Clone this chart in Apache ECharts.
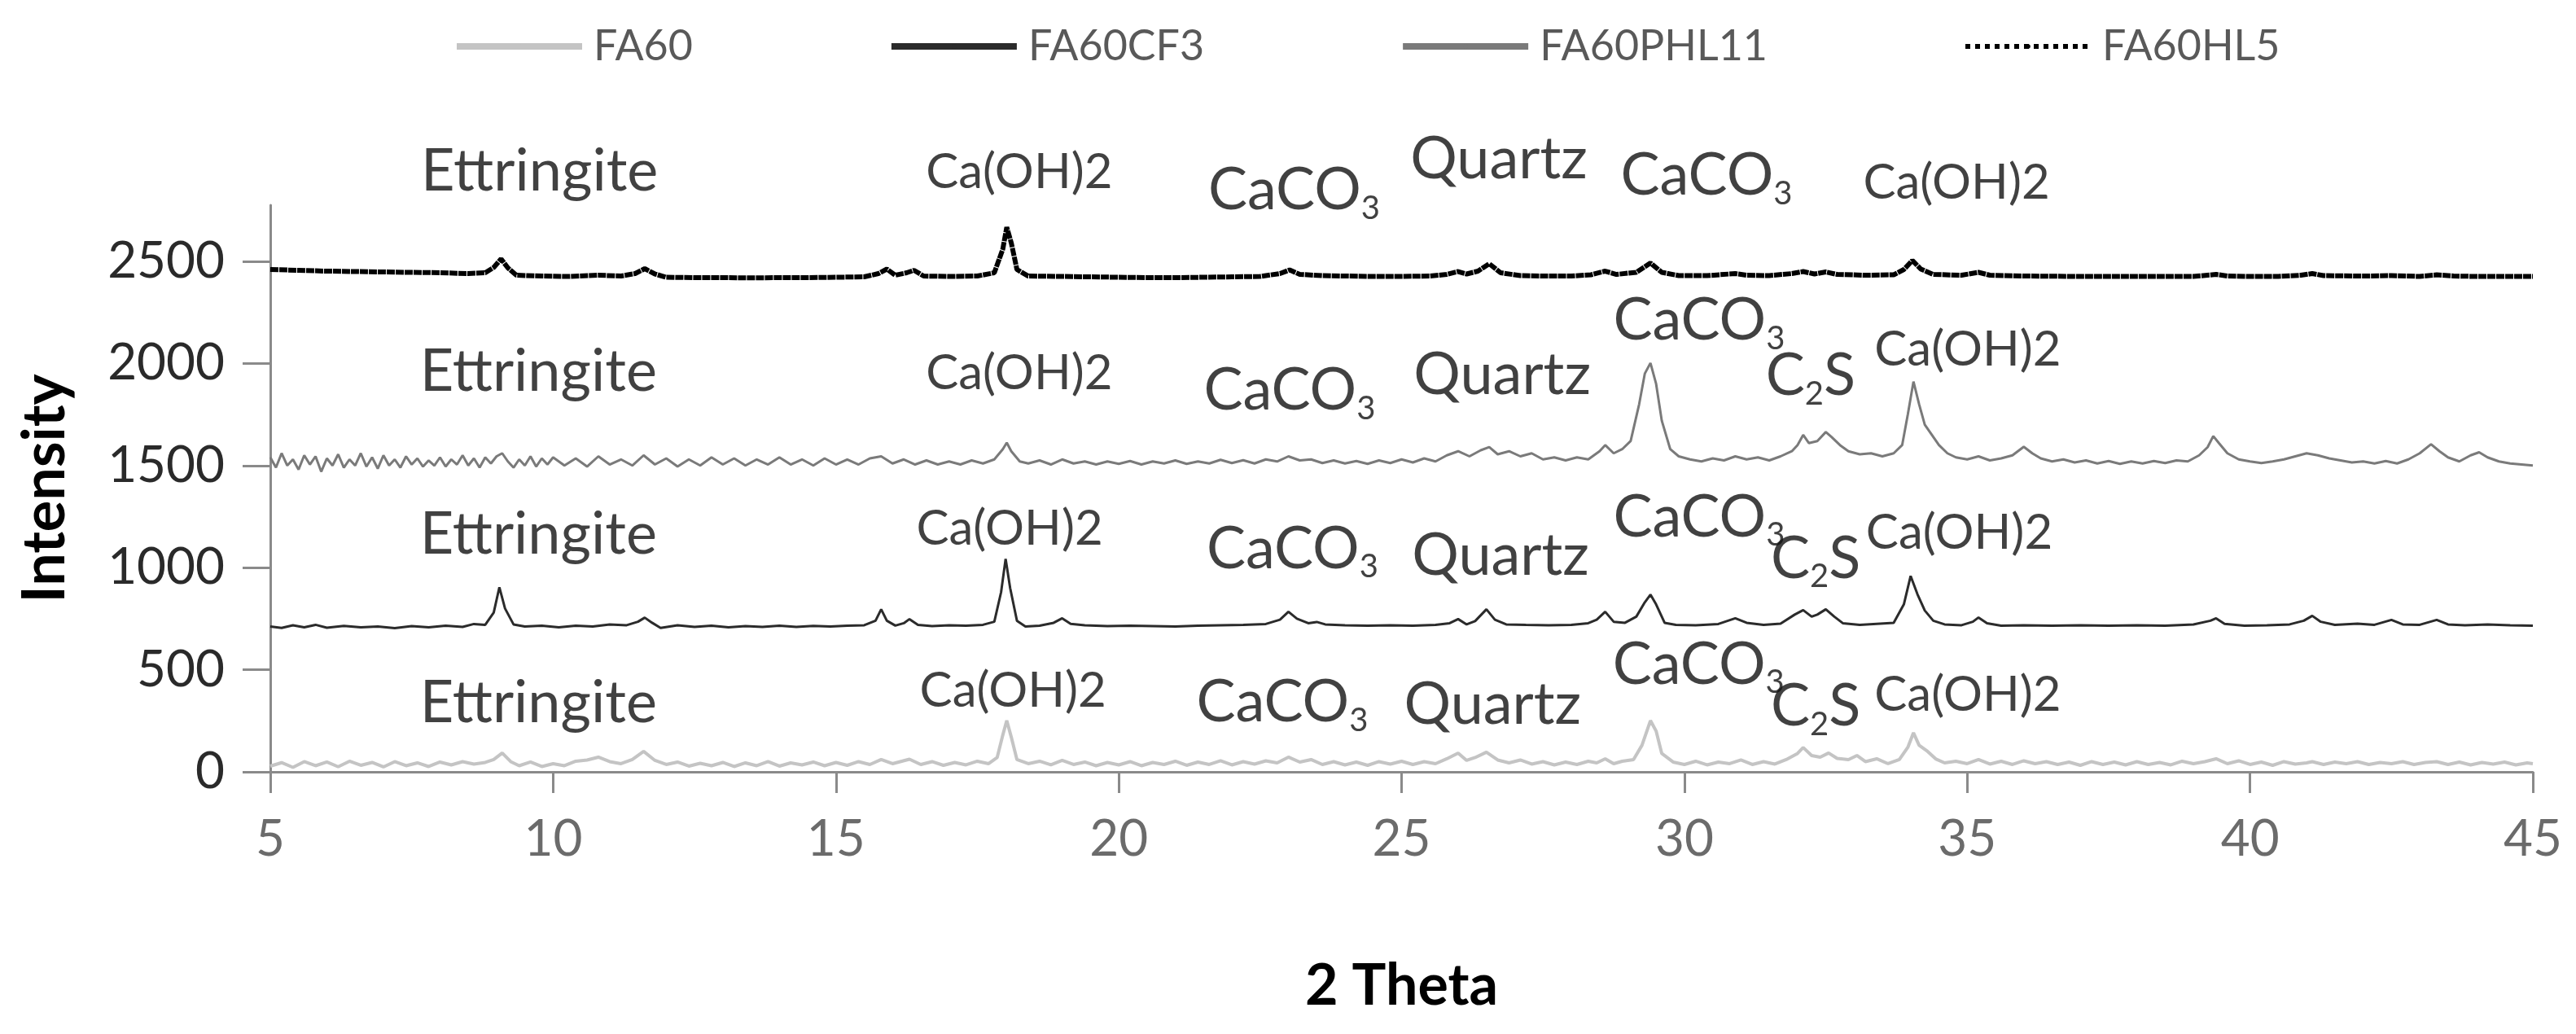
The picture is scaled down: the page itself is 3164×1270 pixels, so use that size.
<!DOCTYPE html>
<html>
<head>
<meta charset="utf-8">
<script src="https://cdn.jsdelivr.net/npm/echarts@6/dist/echarts.min.js"></script>
<style>
html,body{margin:0;padding:0;background:#fff;}
#chart{width:3164px;height:1270px;}
</style>
</head>
<body>
<div id="chart"></div>
<script>
// ---- data: [2theta, intensity] ----
const FA60 = [[5.0,28],[5.2,45],[5.4,22],[5.6,50],[5.8,30],[6.0,48],[6.2,25],[6.4,52],[6.6,32],[6.8,46],[7.0,24],[7.2,50],[7.4,30],[7.6,44],[7.8,26],[8.0,48],[8.2,34],[8.4,50],[8.6,38],[8.8,46],[8.95,60],[9.1,92],[9.25,50],[9.4,30],[9.6,48],[9.8,26],[10.0,40],[10.2,30],[10.4,52],[10.6,58],[10.8,72],[11.0,50],[11.2,40],[11.4,60],[11.6,100],[11.8,56],[12.0,36],[12.2,48],[12.4,28],[12.6,42],[12.8,30],[13.0,46],[13.2,26],[13.4,44],[13.6,30],[13.8,50],[14.0,28],[14.2,44],[14.4,34],[14.6,48],[14.8,30],[15.0,46],[15.2,32],[15.4,50],[15.6,36],[15.8,60],[16.0,40],[16.3,62],[16.5,36],[16.7,50],[16.9,32],[17.1,46],[17.3,34],[17.5,52],[17.7,40],[17.85,70],[17.95,180],[18.02,251],[18.1,170],[18.2,60],[18.4,40],[18.6,52],[18.8,34],[19.0,56],[19.2,36],[19.4,48],[19.6,30],[19.8,46],[20.0,34],[20.2,50],[20.4,30],[20.6,46],[20.8,36],[21.0,52],[21.2,32],[21.4,48],[21.6,36],[21.8,54],[22.0,34],[22.2,50],[22.4,38],[22.6,54],[22.8,44],[23.0,72],[23.2,48],[23.4,60],[23.6,36],[23.8,50],[24.0,34],[24.2,48],[24.4,32],[24.6,50],[24.8,38],[25.0,52],[25.2,36],[25.4,50],[25.6,40],[25.8,64],[26.0,92],[26.15,56],[26.3,70],[26.5,96],[26.7,58],[26.9,44],[27.1,58],[27.3,38],[27.5,50],[27.7,34],[27.9,48],[28.1,36],[28.3,52],[28.45,44],[28.6,64],[28.75,40],[28.9,52],[29.1,60],[29.25,130],[29.4,251],[29.5,200],[29.6,90],[29.8,48],[30.0,36],[30.2,52],[30.4,34],[30.6,48],[30.8,40],[31.0,58],[31.2,36],[31.4,50],[31.6,38],[31.8,60],[32.0,90],[32.1,119],[32.25,80],[32.4,72],[32.55,92],[32.7,66],[32.9,60],[33.05,80],[33.2,50],[33.4,64],[33.6,40],[33.8,60],[33.95,120],[34.05,191],[34.15,130],[34.3,100],[34.45,62],[34.6,44],[34.8,52],[35.0,40],[35.2,60],[35.4,38],[35.6,52],[35.8,36],[36.0,54],[36.2,40],[36.4,50],[36.6,36],[36.8,48],[37.0,32],[37.2,50],[37.4,36],[37.6,48],[37.8,34],[38.0,50],[38.2,36],[38.4,46],[38.6,34],[38.8,52],[39.0,40],[39.2,50],[39.4,64],[39.6,40],[39.8,54],[40.0,36],[40.2,48],[40.4,32],[40.6,50],[40.8,38],[41.0,44],[41.1,50],[41.3,36],[41.5,48],[41.7,40],[41.9,50],[42.1,36],[42.3,46],[42.5,40],[42.7,50],[42.9,36],[43.1,46],[43.3,50],[43.5,36],[43.7,48],[43.9,34],[44.1,46],[44.3,38],[44.5,48],[44.7,34],[44.9,44],[45.0,40]];

const FA60CF3 = [[5.0,712],[5.2,705],[5.4,718],[5.6,708],[5.8,720],[6.0,706],[6.3,715],[6.6,708],[6.9,712],[7.2,704],[7.5,714],[7.8,708],[8.1,716],[8.4,710],[8.6,724],[8.8,720],[8.95,780],[9.05,904],[9.15,800],[9.3,722],[9.5,712],[9.8,716],[10.1,708],[10.4,716],[10.7,712],[11.0,722],[11.3,718],[11.5,735],[11.62,755],[11.75,730],[11.9,705],[12.2,718],[12.5,710],[12.8,716],[13.1,708],[13.4,714],[13.7,710],[14.0,716],[14.3,710],[14.6,715],[14.9,712],[15.2,716],[15.5,718],[15.7,740],[15.8,796],[15.9,740],[16.05,716],[16.2,728],[16.3,748],[16.45,720],[16.7,714],[17.0,718],[17.3,716],[17.6,720],[17.8,735],[17.92,880],[18.0,1043],[18.08,900],[18.2,740],[18.35,712],[18.6,716],[18.85,730],[19.0,752],[19.15,725],[19.4,718],[19.8,714],[20.2,716],[20.6,714],[21.0,712],[21.4,716],[21.8,718],[22.2,720],[22.6,724],[22.85,745],[23.0,784],[23.15,750],[23.35,728],[23.5,734],[23.65,722],[24.0,718],[24.4,716],[24.8,718],[25.2,716],[25.6,720],[25.85,728],[26.0,748],[26.15,722],[26.3,738],[26.5,796],[26.65,745],[26.85,722],[27.2,720],[27.6,718],[28.0,720],[28.3,728],[28.45,745],[28.6,784],[28.75,735],[28.95,730],[29.15,760],[29.3,830],[29.4,868],[29.5,820],[29.65,730],[29.85,720],[30.2,718],[30.6,724],[30.9,752],[31.1,730],[31.4,720],[31.7,726],[31.95,770],[32.1,792],[32.25,760],[32.35,770],[32.5,796],[32.65,760],[32.8,728],[33.1,720],[33.4,725],[33.7,730],[33.88,820],[34.0,959],[34.12,870],[34.25,790],[34.4,740],[34.6,722],[34.9,718],[35.1,735],[35.2,756],[35.35,728],[35.6,716],[36.0,718],[36.5,716],[37.0,718],[37.5,716],[38.0,718],[38.5,716],[39.0,722],[39.3,740],[39.4,752],[39.55,725],[39.9,716],[40.3,718],[40.7,722],[40.95,740],[41.1,764],[41.25,735],[41.5,720],[41.9,726],[42.2,720],[42.5,744],[42.7,722],[43.0,720],[43.3,744],[43.5,722],[43.8,718],[44.2,722],[44.6,718],[45.0,716]];

const FA60PHL11 = [[5.0,1540],[5.1,1490],[5.2,1560],[5.3,1500],[5.4,1530],[5.5,1480],[5.6,1550],[5.7,1505],[5.8,1545],[5.9,1470],[6.0,1535],[6.1,1500],[6.2,1555],[6.3,1490],[6.4,1530],[6.5,1500],[6.6,1560],[6.7,1495],[6.8,1540],[6.9,1485],[7.0,1550],[7.1,1500],[7.2,1530],[7.3,1490],[7.4,1545],[7.5,1505],[7.6,1535],[7.7,1495],[7.8,1525],[7.9,1500],[8.0,1540],[8.1,1495],[8.2,1530],[8.3,1505],[8.4,1550],[8.5,1500],[8.6,1535],[8.7,1490],[8.8,1540],[8.9,1510],[9.0,1545],[9.1,1560],[9.2,1520],[9.3,1490],[9.4,1530],[9.5,1500],[9.6,1545],[9.7,1495],[9.8,1535],[9.9,1505],[10.0,1540],[10.2,1500],[10.4,1535],[10.6,1495],[10.8,1545],[11.0,1505],[11.2,1530],[11.4,1500],[11.6,1550],[11.8,1505],[12.0,1535],[12.2,1495],[12.4,1530],[12.6,1500],[12.8,1540],[13.0,1505],[13.2,1535],[13.4,1500],[13.6,1530],[13.8,1505],[14.0,1540],[14.2,1505],[14.4,1530],[14.6,1500],[14.8,1535],[15.0,1505],[15.2,1530],[15.4,1505],[15.6,1535],[15.8,1545],[16.0,1510],[16.2,1530],[16.4,1505],[16.6,1525],[16.8,1505],[17.0,1520],[17.2,1505],[17.4,1525],[17.6,1510],[17.8,1530],[17.95,1580],[18.02,1612],[18.1,1570],[18.25,1520],[18.4,1510],[18.6,1525],[18.8,1505],[19.0,1530],[19.2,1510],[19.4,1520],[19.6,1505],[19.8,1520],[20.0,1508],[20.2,1522],[20.4,1505],[20.6,1520],[20.8,1510],[21.0,1525],[21.2,1508],[21.4,1520],[21.6,1510],[21.8,1528],[22.0,1512],[22.2,1526],[22.4,1510],[22.6,1530],[22.8,1520],[23.0,1545],[23.2,1525],[23.4,1530],[23.6,1512],[23.8,1525],[24.0,1510],[24.2,1522],[24.4,1508],[24.6,1525],[24.8,1512],[25.0,1530],[25.2,1515],[25.4,1535],[25.6,1520],[25.8,1550],[26.0,1570],[26.2,1545],[26.4,1575],[26.55,1590],[26.7,1555],[26.9,1570],[27.1,1545],[27.3,1560],[27.5,1530],[27.7,1540],[27.9,1525],[28.1,1540],[28.3,1530],[28.5,1570],[28.6,1600],[28.75,1560],[28.9,1580],[29.05,1620],[29.2,1800],[29.3,1950],[29.4,2002],[29.5,1900],[29.6,1720],[29.75,1580],[29.9,1545],[30.1,1530],[30.3,1520],[30.5,1535],[30.7,1525],[30.9,1545],[31.1,1530],[31.3,1540],[31.5,1525],[31.7,1545],[31.9,1570],[32.0,1600],[32.1,1650],[32.2,1610],[32.35,1620],[32.5,1664],[32.6,1640],[32.75,1600],[32.9,1570],[33.1,1555],[33.3,1560],[33.5,1545],[33.7,1560],[33.85,1600],[33.95,1750],[34.05,1911],[34.15,1800],[34.25,1700],[34.35,1660],[34.5,1600],[34.65,1560],[34.8,1540],[35.0,1530],[35.2,1545],[35.4,1525],[35.6,1535],[35.8,1550],[36.0,1592],[36.15,1560],[36.3,1535],[36.5,1520],[36.7,1530],[36.9,1515],[37.1,1525],[37.3,1510],[37.5,1522],[37.7,1508],[37.9,1520],[38.1,1510],[38.3,1522],[38.5,1512],[38.7,1525],[38.9,1520],[39.1,1550],[39.25,1590],[39.35,1644],[39.45,1610],[39.6,1560],[39.8,1530],[40.0,1520],[40.2,1512],[40.4,1520],[40.6,1530],[40.8,1545],[41.0,1560],[41.2,1550],[41.4,1535],[41.6,1525],[41.8,1515],[42.0,1520],[42.2,1510],[42.4,1522],[42.6,1510],[42.8,1530],[43.0,1560],[43.2,1604],[43.35,1570],[43.5,1540],[43.7,1520],[43.9,1550],[44.05,1565],[44.2,1540],[44.4,1520],[44.6,1510],[44.8,1505],[45.0,1500]];

const FA60HL5 = [[5.0,2460],[5.5,2456],[6.0,2452],[6.5,2450],[7.0,2448],[7.5,2446],[8.0,2444],[8.5,2440],[8.8,2444],[8.95,2470],[9.08,2512],[9.2,2468],[9.35,2432],[9.8,2428],[10.3,2426],[10.8,2432],[11.2,2428],[11.45,2440],[11.62,2464],[11.8,2438],[12.0,2422],[12.5,2420],[13.0,2420],[13.5,2419],[14.0,2420],[14.5,2420],[15.0,2422],[15.5,2424],[15.75,2440],[15.9,2462],[16.05,2432],[16.25,2444],[16.38,2456],[16.55,2428],[17.0,2426],[17.5,2428],[17.8,2444],[17.95,2560],[18.02,2667],[18.1,2590],[18.2,2460],[18.4,2428],[19.0,2426],[19.5,2424],[20.0,2422],[20.5,2420],[21.0,2420],[21.5,2422],[22.0,2424],[22.5,2426],[22.85,2440],[23.02,2458],[23.2,2436],[23.6,2430],[24.0,2428],[24.5,2426],[25.0,2426],[25.5,2428],[25.8,2436],[26.0,2450],[26.15,2438],[26.35,2452],[26.55,2488],[26.75,2444],[27.1,2430],[27.5,2428],[28.0,2428],[28.35,2434],[28.6,2452],[28.8,2436],[29.15,2446],[29.4,2492],[29.6,2446],[29.9,2430],[30.4,2430],[30.9,2440],[31.1,2432],[31.5,2430],[31.9,2440],[32.1,2450],[32.3,2438],[32.5,2448],[32.7,2436],[33.2,2432],[33.7,2434],[33.88,2460],[34.03,2504],[34.18,2462],[34.4,2436],[34.9,2432],[35.2,2446],[35.4,2432],[36.0,2428],[37.0,2426],[38.0,2426],[39.0,2426],[39.4,2436],[39.6,2428],[40.0,2426],[40.5,2426],[40.9,2432],[41.1,2440],[41.3,2430],[42.0,2428],[42.5,2430],[43.0,2426],[43.3,2434],[43.6,2428],[44.0,2426],[44.5,2426],[45.0,2426]];

// phase annotations: [label, 2theta, intensity]
const annotations = [
  ['Ettringite', 9.76, 2938], ['Ca(OH)2', 18.24, 2934], ['CaCO3', 23.1, 2846], ['Quartz', 26.72, 2998], ['CaCO3', 30.39, 2918], ['Ca(OH)2', 34.81, 2886],
  ['Ettringite', 9.74, 1959], ['Ca(OH)2', 18.24, 1951], ['CaCO3', 23.02, 1867], ['Quartz', 26.78, 1943], ['CaCO3', 30.26, 2209], ['C2S', 32.23, 1939], ['Ca(OH)2', 35.01, 2066],
  ['Ettringite', 9.74, 1162], ['Ca(OH)2', 18.07, 1190], ['CaCO3', 23.07, 1091], ['Quartz', 26.75, 1059], ['CaCO3', 30.26, 1246], ['C2S', 32.32, 1043], ['Ca(OH)2', 34.86, 1170],
  ['Ettringite', 9.74, 334], ['Ca(OH)2', 18.13, 398], ['CaCO3', 22.89, 338], ['Quartz', 26.61, 326], ['CaCO3', 30.25, 525], ['C2S', 32.32, 318], ['Ca(OH)2', 35.01, 378]
];

const seriesNames = ['FA60', 'FA60CF3', 'FA60PHL11', 'FA60HL5'];
const yTickValues = [0, 500, 1000, 1500, 2000, 2500];

// ---- chart ----
const FONT = 'Lato, "Open Sans", sans-serif';
const chart = echarts.init(document.getElementById('chart'), null, {renderer: 'canvas'});

function richLabel(name) {
  if (name === 'CaCO3') return '{m|CaCO}{s|3}';
  if (name === 'C2S') return '{m|C}{s|2}{m|S}';
  if (name === 'Ca(OH)2') return '{c|Ca(OH)2}';
  return '{m|' + name + '}';
}

const lineBase = {type: 'line', symbol: 'none', showSymbol: false, smooth: false, animation: false, z: 3};

chart.setOption({
  animation: false,
  backgroundColor: '#ffffff',
  grid: {left: 332, right: 53, top: 252, bottom: 322, containLabel: false},
  legend: {
    left: 552, top: 26,
    itemWidth: 154, itemHeight: 7, itemGap: 240,
    textStyle: {fontFamily: FONT, fontSize: 52, color: '#595959', padding: [0, 0, 0, 9]},
    lineStyle: {width: 8},
    data: [
      {name: 'FA60'}, {name: 'FA60CF3'}, {name: 'FA60PHL11'},
      {name: 'FA60HL5', lineStyle: {type: 'dotted', width: 6}}
    ]
  },
  xAxis: {
    type: 'value', min: 5, max: 45, interval: 5,
    name: '2 Theta', nameLocation: 'middle', nameGap: 228,
    nameTextStyle: {fontFamily: FONT, fontSize: 70, fontWeight: 'bold', color: '#000'},
    axisLine: {show: true, onZero: false, lineStyle: {color: '#8a8a8a', width: 3}},
    axisTick: {show: true, length: 26, lineStyle: {color: '#8a8a8a', width: 3}},
    axisLabel: {fontFamily: FONT, fontSize: 62, color: '#6b6b6b', margin: 52, formatter: v => String(v)},
    splitLine: {show: false}
  },
  yAxis: {
    type: 'value', min: 0, max: 2775, interval: 500,
    name: 'Intensity', nameLocation: 'middle', nameGap: 240, nameRotate: 90,
    nameTextStyle: {fontFamily: FONT, fontSize: 72, fontWeight: 'bold', color: '#000'},
    axisLine: {show: true, lineStyle: {color: '#8a8a8a', width: 3}},
    axisTick: {show: true, length: 34, lineStyle: {color: '#8a8a8a', width: 3}, customValues: yTickValues},
    axisLabel: {fontFamily: FONT, fontSize: 62, color: '#2a2a2a', margin: 56, customValues: yTickValues, formatter: v => String(v)},
    splitLine: {show: false}
  },
  series: [
    Object.assign({}, lineBase, {name: seriesNames[0], data: FA60, lineStyle: {color: '#c4c4c4', width: 4}, itemStyle: {color: '#c4c4c4'}}),
    Object.assign({}, lineBase, {name: seriesNames[1], data: FA60CF3, lineStyle: {color: '#2b2b2b', width: 3}, itemStyle: {color: '#2b2b2b'}}),
    Object.assign({}, lineBase, {name: seriesNames[2], data: FA60PHL11, lineStyle: {color: '#7a7a7a', width: 3}, itemStyle: {color: '#7a7a7a'}}),
    Object.assign({}, lineBase, {name: seriesNames[3], data: FA60HL5, lineStyle: {color: '#000000', width: 6, type: [10, 1]}, itemStyle: {color: '#000000'}}),
    {
      type: 'scatter', name: 'labels', silent: true, clip: false, animation: false, z: 5,
      symbolSize: 1, itemStyle: {color: 'rgba(0,0,0,0)'},
      data: annotations.map(a => ({name: a[0], value: [a[1], a[2]]})),
      label: {
        show: true, position: 'inside',
        formatter: p => richLabel(p.name),
        rich: {
          m: {fontFamily: FONT, fontSize: 72, color: '#111'},
          s: {fontFamily: FONT, fontSize: 40, color: '#111', padding: [44, 0, 0, 0]},
          c: {fontFamily: FONT, fontSize: 60, color: '#111'}
        }
      }
    }
  ]
});
</script>
</body>
</html>
